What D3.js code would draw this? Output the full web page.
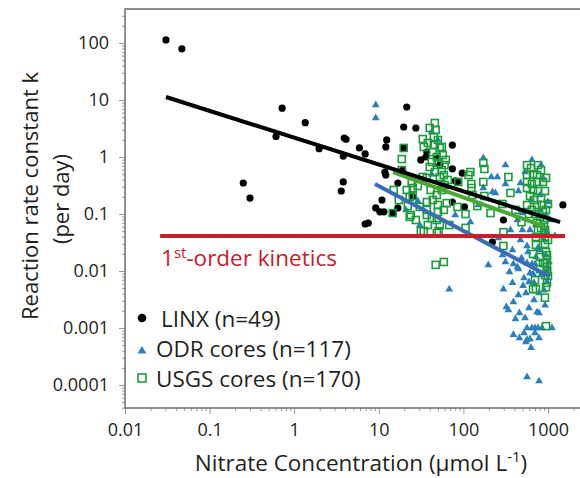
<!DOCTYPE html>
<html>
<head>
<meta charset="utf-8">
<script src="https://cdn.jsdelivr.net/npm/d3@7"></script>
<style>
  body { margin: 0; background: #fff; }
  svg { display: block; font-family: "Open Sans", sans-serif; }
</style>
</head>
<body>
<div id="chart"></div>
<script>
// nitrate (umol/L), k (per day)
const linxPoints = [
  [0.0305, 113], [0.047, 79], [0.72, 7.2], [0.61, 2.3], [1.35, 4.0], [1.97, 1.4],
  [0.25, 0.35], [0.3, 0.19], [3.9, 2.15], [4.1, 2.05], [5.9, 1.44], [6.9, 1.13],
  [3.8, 1.04], [3.8, 0.365], [3.6, 0.253], [12.4, 1.99], [12.1, 1.5], [21.4, 7.5],
  [19.7, 3.36], [27.4, 3.23], [37, 1.22], [36, 1.0], [19.2, 0.59], [11.8, 0.545],
  [12.1, 0.483], [16.8, 0.35], [10.9, 0.176], [9.2, 0.128], [10.3, 0.109], [11.5, 0.109],
  [16.8, 0.128], [6.9, 0.0668], [7.5, 0.0695], [48.5, 0.96], [52.6, 0.72], [74, 1.62],
  [74, 0.62], [97, 0.52], [80.5, 0.38], [85, 0.365], [74, 0.162], [103, 0.133],
  [297, 0.0785], [1500, 0.144], [220, 0.0323], [19.7, 1.44], [14.6, 0.104], [31.4, 0.89],
  [25.2, 0.2]
];

const odrPoints = [
  [9.2, 8.2], [9.2, 4.83], [42.3, 2.75], [42.3, 0.5], [28.9, 0.169], [20.9, 0.118],
  [172, 0.96], [314, 0.72], [214, 0.446], [252, 0.446], [314, 0.336], [172, 0.286],
  [220, 0.243], [239, 0.234], [447, 0.253], [1000, 0.162], [498, 0.104], [805, 0.118],
  [435, 0.0785], [360, 0.0524], [498, 0.0524], [613, 0.0524], [973, 0.0483], [565, 0.0275],
  [580, 0.0215], [197, 0.0128], [314, 0.0144], [390, 0.0133], [435, 0.0118], [447, 0.0108],
  [565, 0.0138], [646, 0.0133], [702, 0.0133], [613, 0.0092], [665, 0.0089], [521, 0.0075],
  [596, 0.0064], [683, 0.0062], [380, 0.0062], [507, 0.0055], [297, 0.0048], [549, 0.0041],
  [783, 0.0041], [68, 0.0048], [390, 0.00286], [322, 0.00234], [340, 0.00207], [596, 0.00224],
  [742, 0.0019], [783, 0.00183], [459, 0.00183], [412, 0.00144], [535, 0.0015], [565, 0.001],
  [646, 0.001], [702, 0.001], [762, 0.001], [849, 0.001], [1115, 0.001], [390, 0.00076],
  [521, 0.00082], [702, 0.00082], [459, 0.00067], [565, 0.00062], [613, 0.00064], [783, 0.00067],
  [549, 0.00057], [630, 0.00045], [565, 0.000138], [783, 0.000117], [473, 0.35], [805, 0.215],
  [947, 0.096], [1056, 0.0785], [720, 0.0643], [897, 0.035], [805, 0.0234], [947, 0.019],
  [720, 0.0176], [1000, 0.0113], [827, 0.0085], [973, 0.0064], [897, 0.0046], [473, 0.035],
  [380, 0.0234], [259, 0.038], [150, 0.144], [121, 0.072], [630, 0.176], [535, 0.545],
  [827, 0.72], [1210, 0.041], [683, 0.0031], [922, 0.0025], [447, 0.0038], [80, 0.096],
  [50, 1.99], [30.5, 0.064], [646, 0.89], [762, 0.0255], [1028, 0.0144], [486, 0.0169],
  [350, 0.0096], [290, 0.019], [872, 0.43]
];

const usgsPoints = [
  [46, 3.95], [33.1, 2.07], [44.7, 2.24], [34, 1.5], [44.7, 1.62], [52.6, 1.44],
  [55.6, 1.5], [43.5, 1.22], [48.5, 1.0], [57, 1.08], [42.3, 0.82], [50, 0.785],
  [60, 0.724], [55.6, 0.59], [19.7, 1.44], [18.7, 0.92], [18.7, 0.59], [33.1, 0.446],
  [37, 0.43], [24.5, 0.35], [25.2, 0.286], [21.4, 0.264], [15, 0.264], [23.2, 0.199],
  [25.2, 0.207], [22, 0.138], [23.9, 0.096], [37, 0.162], [37, 0.118], [37, 0.096],
  [34, 0.05], [38, 0.064], [48.5, 0.215], [50, 0.144], [50, 0.109], [48.5, 0.0785],
  [52.6, 0.064], [51, 0.05], [63.6, 0.155], [14.6, 0.104], [23.2, 0.089], [31.4, 0.05],
  [52.6, 0.446], [60, 0.323], [55.6, 0.264], [85, 0.133], [106, 0.1], [48.5, 0.0465],
  [106, 0.057], [47, 0.0128], [58.7, 0.0144], [297, 0.048], [297, 0.0275], [289, 0.15],
  [565, 0.72], [172, 0.785], [177, 0.616], [121, 0.545], [115, 0.483], [565, 0.483],
  [665, 0.5], [742, 0.483], [87, 0.365], [172, 0.365], [124, 0.336], [124, 0.286],
  [565, 0.365], [646, 0.336], [742, 0.365], [873, 0.365], [565, 0.286], [665, 0.264],
  [762, 0.253], [921, 0.253], [177, 0.207], [683, 0.176], [565, 0.144], [742, 0.144],
  [849, 0.144], [1000, 0.15], [646, 0.118], [873, 0.109], [702, 0.1], [805, 0.089],
  [897, 0.0785], [897, 0.064], [742, 0.07], [827, 0.057], [921, 0.0524], [720, 0.0395],
  [921, 0.0395], [921, 0.0298], [720, 0.0287], [921, 0.046], [665, 0.0199], [947, 0.0215],
  [973, 0.019], [973, 0.0156], [921, 0.0138], [973, 0.0118], [805, 0.0108], [973, 0.01],
  [921, 0.0085], [702, 0.0069], [973, 0.0062], [947, 0.0052], [665, 0.0048], [720, 0.0048],
  [921, 0.0034], [947, 0.00108], [40, 3.23], [47, 2.98], [38, 1.76], [50, 1.99],
  [62, 0.89], [40, 0.668], [46, 0.545], [58.7, 0.483], [65.5, 0.395], [28.9, 0.31],
  [41, 0.264], [43.5, 0.176], [58.7, 0.118], [42.3, 0.085], [30.5, 0.133], [17.2, 0.176],
  [27.4, 0.0785], [68, 0.064], [630, 0.64], [827, 0.59], [947, 0.43], [613, 0.207],
  [827, 0.19], [947, 0.118], [596, 0.1], [762, 0.0524], [1000, 0.035], [805, 0.0176],
  [1000, 0.0082], [873, 0.0138], [146, 0.138], [209, 0.104], [412, 0.118], [360, 0.234],
  [486, 0.072], [340, 0.446], [128, 0.215], [762, 0.72]
];

// fitted lines, [start, end]
const linxFit = [[0.0305, 11.3], [1390, 0.072]];
const odrFit = [[9, 0.336], [1057, 0.0079]];
const usgsFit = [[14.7, 0.545], [871, 0.062]];
const firstOrder = [[0.026, 0.041], [1590, 0.041]];

const xTicks = [0.01, 0.1, 1, 10, 100, 1000];
const xTickLabels = ["0.01", "0.1", "1", "10", "100", "1000"];
const yTicks = [0.0001, 0.001, 0.01, 0.1, 1, 10, 100];
const yTickLabels = ["0.0001", "0.001", "0.01", "0.1", "1", "10", "100"];
const legendLabels = ["LINX (n=49)", "ODR cores (n=117)", "USGS cores (n=170)"];

const width = 580, height = 478;
const frame = { left: 125, top: 9, bottom: 408, right: 580 };
const axisGrey = "#6d6e71";
const textColour = "#231f20";

const svg = d3.select("#chart").append("svg")
  .attr("width", width).attr("height", height);

const x = d3.scaleLog().domain([0.01, 1000]).range([125, 548]);
const y = d3.scaleLog().domain([0.0001, 100]).range([385, 43]);

function minorValues(domain) {
  const out = [];
  for (let e = Math.round(Math.log10(domain[0])) - 1; e <= Math.log10(domain[1]) + 1; e++) {
    for (let m = 2; m <= 9; m++) out.push(m * Math.pow(10, e));
  }
  return out;
}

// minor ticks first
const xMinor = minorValues([0.01, 1000]).filter((v) => x(v) > frame.left && x(v) < frame.right);
const yMinor = minorValues([0.0001, 100]).filter((v) => y(v) > frame.top && y(v) < frame.bottom);

const xAxisMinor = svg.append("g")
  .attr("transform", `translate(0,${frame.bottom})`)
  .call(d3.axisBottom(x).tickValues(xMinor).tickSize(3).tickFormat(""));
const yAxisMinor = svg.append("g")
  .attr("transform", `translate(${frame.left},0)`)
  .call(d3.axisLeft(y).tickValues(yMinor).tickSize(3).tickFormat(""));

const xAxis = svg.append("g")
  .attr("transform", `translate(0,${frame.bottom})`)
  .call(d3.axisBottom(x).tickValues(xTicks).tickSize(6).tickPadding(9)
    .tickFormat((d, i) => xTickLabels[i]));
const yAxis = svg.append("g")
  .attr("transform", `translate(${frame.left},0)`)
  .call(d3.axisLeft(y).tickValues(yTicks).tickSize(6).tickPadding(10)
    .tickFormat((d, i) => yTickLabels[i]));

[xAxisMinor, yAxisMinor, xAxis, yAxis].forEach((g) => {
  g.select(".domain").remove();
  g.selectAll("line").attr("stroke", "#9a9b9d");
});
[xAxis, yAxis].forEach((g) => {
  g.selectAll("text")
    .attr("fill", textColour)
    .style("font-size", "18px")
    .style("font-family", "Open Sans, sans-serif");
});

// frame: top, left, bottom
svg.append("path")
  .attr("d", `M${frame.right},${frame.top}H${frame.left}V${frame.bottom}H${frame.right}`)
  .attr("fill", "none")
  .attr("stroke", axisGrey)
  .attr("stroke-width", 1.5);

// points
svg.append("g").selectAll("circle")
  .data(linxPoints)
  .enter().append("circle")
  .attr("cx", (d) => x(d[0]))
  .attr("cy", (d) => y(d[1]))
  .attr("r", 3.6)
  .attr("fill", "#000");

const triangle = d3.symbol().type(d3.symbolTriangle).size(26);
svg.append("g").selectAll("path")
  .data(odrPoints)
  .enter().append("path")
  .attr("d", triangle)
  .attr("transform", (d) => `translate(${x(d[0])},${y(d[1])})`)
  .attr("fill", "#2b7fc0");

svg.append("g").selectAll("rect")
  .data(usgsPoints)
  .enter().append("rect")
  .attr("x", (d) => x(d[0]) - 3.5)
  .attr("y", (d) => y(d[1]) - 3.5)
  .attr("width", 7)
  .attr("height", 7)
  .attr("fill", "none")
  .attr("stroke", "#1e9b3b")
  .attr("stroke-width", 1.6);

// fits
const line = d3.line().x((d) => x(d[0])).y((d) => y(d[1]));
const fits = [
  { data: odrFit, colour: "#3b6db4" },
  { data: usgsFit, colour: "#4aa832" },
  { data: linxFit, colour: "#000" },
  { data: firstOrder, colour: "#c8202b" }
];
svg.append("g").selectAll("path")
  .data(fits)
  .enter().append("path")
  .attr("d", (d) => line(d.data))
  .attr("fill", "none")
  .attr("stroke", (d) => d.colour)
  .attr("stroke-width", 4);

// 1st-order kinetics label
const kin = svg.append("text")
  .attr("x", 161).attr("y", 266)
  .attr("fill", "#c8202b")
  .style("font-size", "22.5px");
kin.append("tspan").text("1");
kin.append("tspan").attr("dy", -8).style("font-size", "15px").text("st");
kin.append("tspan").attr("dy", 8).text("-order kinetics");

// legend
const legend = svg.append("g").attr("transform", "translate(142,318)");
const rows = legend.selectAll("g")
  .data(legendLabels)
  .enter().append("g")
  .attr("transform", (d, i) => `translate(0,${i * 30})`);
rows.append("text")
  .attr("x", (d, i) => (i === 0 ? 19 : 14))
  .attr("y", 9)
  .attr("fill", textColour)
  .style("font-size", "22.5px")
  .text((d) => d);
legend.append("circle").attr("r", 4.3).attr("fill", "#000");
legend.append("path")
  .attr("d", d3.symbol().type(d3.symbolTriangle).size(34))
  .attr("transform", "translate(0,33)")
  .attr("fill", "#2b7fc0");
legend.append("rect")
  .attr("x", -4).attr("y", 56).attr("width", 8).attr("height", 8)
  .attr("fill", "none").attr("stroke", "#1e9b3b").attr("stroke-width", 1.6);

// axis titles
const xTitle = svg.append("text")
  .attr("x", 361).attr("y", 471)
  .attr("text-anchor", "middle")
  .attr("fill", textColour)
  .style("font-size", "22.5px");
xTitle.append("tspan").text("Nitrate Concentration (\u03bcmol L");
xTitle.append("tspan").attr("dy", -9).style("font-size", "15px").text("-1");
xTitle.append("tspan").attr("dy", 9).text(")");

svg.append("text")
  .attr("transform", "translate(38,196) rotate(-90)")
  .attr("text-anchor", "middle")
  .attr("fill", textColour)
  .style("font-size", "22px")
  .text("Reaction rate constant k");
svg.append("text")
  .attr("transform", "translate(69,199) rotate(-90)")
  .attr("text-anchor", "middle")
  .attr("fill", textColour)
  .style("font-size", "22px")
  .text("(per day)");
</script>
</body>
</html>
